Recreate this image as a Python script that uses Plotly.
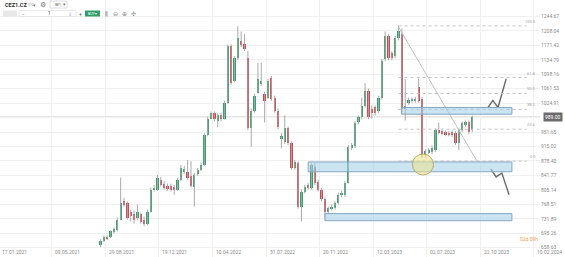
import plotly.graph_objects as go
import pandas as pd

# ---------------- data ----------------
symbol = "CEZ1.CZ"
dates = pd.date_range("2021-08-19", periods=112, freq="7D")

opens = [665, 675, 685, 685, 698, 703, 730, 776, 771, 748,
         745, 735, 743, 730, 718, 750, 806, 806, 831, 821,
         816, 816, 813, 806, 831, 851, 851, 841, 813, 846,
         856, 868, 944, 986, 999, 981, 996, 986, 1026, 1169,
         1082, 1139, 1182, 1174, 1139, 961, 1006, 1052, 1074, 1049,
         1039, 1089, 1039, 1006, 936, 926, 961, 924, 861, 873,
         763, 801, 818, 811, 863, 826, 806, 781, 750, 758,
         760, 771, 791, 793, 823, 911, 916, 976, 989, 1019,
         1057, 1011, 1014, 1006, 1039, 1137, 1195, 1152, 1144, 1190,
         1200, 1011, 1026, 1031, 1031, 1067, 1036, 898, 901, 901,
         906, 956, 954, 951, 949, 951, 949, 924, 956, 969,
         976, 956]
highs = [680, 690, 690, 703, 710, 735, 836, 785, 776, 755,
         753, 768, 748, 738, 755, 811, 818, 843, 838, 828,
         821, 821, 818, 836, 868, 866, 881, 878, 848, 861,
         873, 949, 991, 1004, 1004, 999, 1001, 1031, 1174, 1174,
         1144, 1220, 1207, 1200, 1157, 1011, 1049, 1127, 1127, 1054,
         1087, 1094, 1044, 1011, 949, 994, 966, 928, 881, 878,
         806, 818, 823, 873, 873, 831, 811, 786, 763, 768,
         776, 798, 803, 828, 919, 924, 979, 994, 1039, 1076,
         1062, 1019, 1019, 1044, 1137, 1207, 1200, 1157, 1195, 1222,
         1215, 1085, 1039, 1039, 1041, 1087, 1041, 908, 911, 918,
         961, 976, 959, 956, 954, 956, 954, 961, 979, 981,
         981, 994]
lows = [660, 673, 678, 683, 695, 700, 728, 763, 730, 725,
        720, 728, 720, 713, 715, 748, 801, 803, 813, 806,
        803, 801, 793, 803, 828, 846, 831, 811, 763, 841,
        853, 866, 941, 984, 979, 964, 979, 984, 1024, 1072,
        1077, 1134, 1167, 1157, 956, 914, 1001, 1049, 1069, 976,
        1036, 1031, 1001, 959, 911, 921, 919, 856, 856, 758,
        725, 796, 806, 806, 818, 801, 776, 735, 745, 753,
        755, 768, 786, 788, 821, 906, 911, 971, 984, 1014,
        984, 986, 994, 1001, 1034, 1132, 1134, 1134, 1139, 1184,
        1001, 981, 1021, 1026, 1026, 1026, 886, 888, 896, 896,
        901, 946, 944, 941, 941, 939, 919, 906, 951, 964,
        946, 951]
closes = [675, 685, 683, 700, 705, 730, 773, 768, 735, 740,
          730, 750, 725, 718, 750, 806, 811, 836, 818, 811,
          808, 806, 806, 831, 861, 858, 836, 816, 843, 856,
          868, 944, 986, 999, 984, 994, 984, 1026, 1169, 1077,
          1139, 1190, 1172, 1162, 961, 1006, 1044, 1087, 1082, 1031,
          1082, 1036, 1006, 964, 941, 961, 924, 861, 876, 763,
          801, 813, 811, 868, 823, 806, 781, 748, 758, 763,
          771, 793, 798, 823, 914, 919, 974, 989, 1019, 1057,
          989, 1001, 999, 1039, 1132, 1195, 1139, 1139, 1190, 1207,
          1011, 1019, 1034, 1034, 1036, 1031, 893, 903, 906, 911,
          956, 951, 949, 946, 946, 944, 924, 956, 974, 976,
          951, 989]

date_ticks = ["2021-01-17", "2021-05-09", "2021-08-29", "2021-12-19", "2022-04-10",
              "2022-07-31", "2022-11-20", "2023-03-12", "2023-07-02", "2023-10-22", "2024-02-10"]
date_labels = ["17.01.2021", "09.05.2021", "29.08.2021", "19.12.2021", "10.04.2022",
               "31.07.2022", "20.11.2022", "12.03.2023", "02.07.2023", "22.10.2023", "10.02.2024"]
price_ticks = [658.63, 695.26, 731.89, 768.51, 805.14, 841.77, 878.40, 915.02, 951.65,
               988.28, 1024.91, 1061.53, 1098.16, 1134.79, 1171.42, 1208.04, 1244.67]
price_labels = ["658.63", "695.26", "731.89", "768.51", "805.14", "841.77", "878.40", "915.02",
                "951.65", "", "1024.91", "1061.53", "1098.16", "1134.79", "1171.42", "1208.04", "1244.67"]
last_price = 989.00
timer_text = "02d 09h"

fib_levels = [100.0, 61.8, 50.0, 38.2, 23.6, 0.0]
fib_low, fib_high = 878.0, 1221.0
fib_start, fib_end = "2023-05-04", "2024-01-27"

zones = [  # (start, end, low, high)
    ("2023-05-10", "2023-12-27", 997, 1014),
    ("2022-10-27", "2023-12-27", 851, 876),
    ("2022-12-01", "2023-12-27", 727, 745),
]
circle_box = ("2023-06-02", "2023-07-16", 843, 896)
trend_x = ["2023-05-04", "2023-10-15"]
trend_y = [1218, 878]
proj_up_x = ["2023-11-07", "2023-11-17", "2023-11-28", "2023-12-15"]
proj_up_y = [1014, 1032, 1014, 1087]
proj_dn_x = ["2023-11-13", "2023-11-24", "2023-12-06", "2023-12-21"]
proj_dn_y = [858, 838, 848, 793]

# ---------------- figure ----------------
W, H = 565, 257
PW = 540  # plot width in px

def px(x):
    return x / PW

def py(y):
    return 1 - y / H

GREEN = "#33a06b"
RED = "#d8434e"
GRID = "#f0f0f0"
TXT = "#8a8a8a"

fig = go.Figure()

wx, wy = [], []
for d, h, l in zip(dates, highs, lows):
    wx += [d, d, None]
    wy += [l, h, None]
fig.add_trace(go.Scatter(x=wx, y=wy, mode="lines", line=dict(color="#a9a9a9", width=1),
                         hoverinfo="skip", showlegend=False))

colors = [GREEN if c >= o else RED for o, c in zip(opens, closes)]
fig.add_trace(go.Bar(x=dates, y=[abs(c - o) for o, c in zip(opens, closes)],
                     base=[min(o, c) for o, c in zip(opens, closes)],
                     marker=dict(color=colors, line=dict(width=0)),
                     width=4.8 * 86400000, showlegend=False))

fig.add_trace(go.Scatter(x=proj_up_x, y=proj_up_y, mode="lines",
                         line=dict(color="#6a6a6a", width=1.4), showlegend=False))
fig.add_trace(go.Scatter(x=proj_dn_x, y=proj_dn_y, mode="lines",
                         line=dict(color="#6a6a6a", width=1.4), showlegend=False))

shapes = []
shapes.append(dict(type="line", xref="paper", x0=0, x1=1, yref="y", y0=last_price, y1=last_price,
                   line=dict(color="#cfcfcf", width=1.5), layer="below"))
for lv in fib_levels:
    val = fib_low + (fib_high - fib_low) * lv / 100
    shapes.append(dict(type="line", xref="x", x0=fib_start, x1=fib_end, yref="y", y0=val, y1=val,
                       line=dict(color="#c4c4c4", width=1, dash="3px,3px")))
shapes.append(dict(type="line", xref="x", x0=trend_x[0], x1=trend_x[1], yref="y",
                   y0=trend_y[0], y1=trend_y[1], line=dict(color="#c0c0c0", width=1)))
for s, e, lo, hi in zones:
    shapes.append(dict(type="rect", xref="x", x0=s, x1=e, yref="y", y0=lo, y1=hi,
                       fillcolor="rgba(160,205,235,0.55)", line=dict(color="#86a6bf", width=1)))
shapes.append(dict(type="circle", xref="x", x0=circle_box[0], x1=circle_box[1], yref="y",
                   y0=circle_box[2], y1=circle_box[3],
                   fillcolor="rgba(236,226,140,0.55)", line=dict(color="#b6ad6a", width=1)))

# toolbar shapes
shapes.append(dict(type="rect", xref="paper", yref="paper", x0=px(50), x1=px(67), y0=py(8), y1=py(1),
                   line=dict(color="#d6d6d6", width=0.8), fillcolor="white"))
shapes.append(dict(type="rect", xref="paper", yref="paper", x0=px(3), x1=px(17), y0=py(16.5), y1=py(10.5),
                   line=dict(width=0), fillcolor="#e7e7e7"))
shapes.append(dict(type="rect", xref="paper", yref="paper", x0=px(19), x1=px(76), y0=py(16.5), y1=py(10.5),
                   line=dict(color="#e2e2e2", width=0.8), fillcolor="white"))
shapes.append(dict(type="rect", xref="paper", yref="paper", x0=px(85), x1=px(100), y0=py(16.5), y1=py(10.5),
                   line=dict(width=0), fillcolor="#2f9e6a"))

ann = []
for d, lab in zip(date_ticks, date_labels):
    if d == date_ticks[0]:
        ann.append(dict(x=0, xref="paper", xanchor="left", y=py(251.5), yref="paper", yanchor="middle",
                        text=lab, showarrow=False, font=dict(size=5, color=TXT)))
    else:
        ann.append(dict(x=d, xref="x", xanchor="left", xshift=1.5, y=py(251.5), yref="paper",
                        yanchor="middle", text=lab, showarrow=False, font=dict(size=5, color=TXT)))
for lv in fib_levels:
    val = fib_low + (fib_high - fib_low) * lv / 100
    ann.append(dict(x=px(538), xref="paper", xanchor="right", y=val, yref="y", yanchor="bottom",
                    text=f"{lv:.1f}", showarrow=False, font=dict(size=4, color="#a0a0a0")))
ann.append(dict(x=1, xref="paper", xanchor="left", xshift=3, y=last_price, yref="y", yanchor="middle",
                text=f"{last_price:.2f}", showarrow=False, bgcolor="#6b6b6b", borderpad=1,
                font=dict(size=5, color="white")))
ann.append(dict(x=1, xref="paper", xanchor="right", y=py(239), yref="paper", yanchor="middle",
                text=timer_text, showarrow=False, font=dict(size=5, color="#e8a44a")))

def tb(x, y, text, size=5, color="#555", anchor="left"):
    ann.append(dict(x=px(x), xref="paper", xanchor=anchor, y=py(y), yref="paper", yanchor="middle",
                    text=text, showarrow=False, font=dict(size=size, color=color)))

tb(3, 4.5, f"<b>{symbol}</b>", 5.5, "#333")
tb(26, 4.8, "STC", 3.2, "#999")
tb(34, 4.5, "▾", 5, "#777", "center")
tb(43, 4.5, "⚙", 7, "#777", "center")
tb(53, 4.5, "W1", 4.2, "#444")
tb(64, 4.5, "▾", 4.5, "#777", "center")
tb(23, 13.5, "−", 5, "#666", "center")
tb(49, 13.5, "1", 4.5, "#444", "center")
tb(70, 13.5, "⇳", 5, "#aaa", "center")
tb(80, 13.5, "+", 5.5, "#666", "center")
tb(92.5, 13.5, "BUY ▾", 3.5, "white", "center")
tb(106, 13.5, "⫼", 6, "#666", "center")
tb(115, 13.5, "⊖", 6, "#888", "center")
tb(124, 13.5, "⊕", 6, "#888", "center")
tb(133, 13.5, "✣", 6, "#888", "center")

fig.update_layout(
    width=W, height=H, margin=dict(l=0, r=W - PW, t=0, b=0, autoexpand=False),
    paper_bgcolor="white", plot_bgcolor="white", showlegend=False,
    font=dict(family="Roboto, Arial, sans-serif"),
    shapes=shapes, annotations=ann, bargap=0,
    xaxis=dict(type="date", range=["2021-01-20 18:00", "2024-02-23 17:00"],
               tickvals=date_ticks, showticklabels=False, showgrid=True, gridcolor=GRID,
               zeroline=False, showline=False, ticks="", fixedrange=True, rangeslider=dict(visible=False)),
    yaxis=dict(side="right", range=[635.0, 1286.5], tickvals=price_ticks, ticktext=price_labels,
               tickfont=dict(size=5, color=TXT), showgrid=True, gridcolor=GRID, zeroline=False,
               showline=False, ticks="", automargin=False, fixedrange=True),
)

fig.write_html("out.html")
